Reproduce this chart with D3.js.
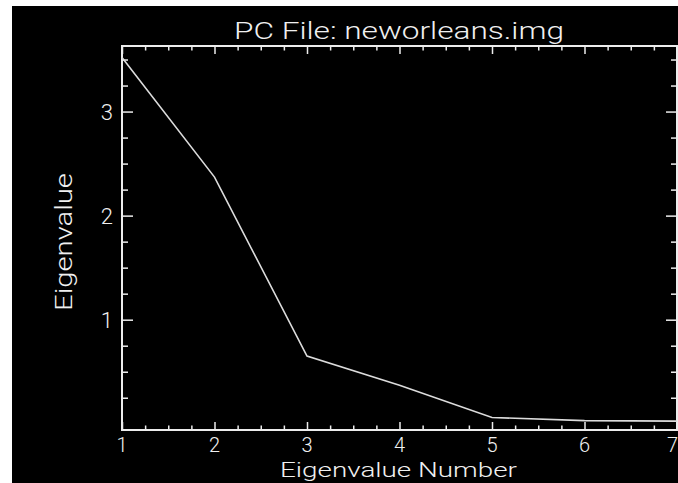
<!DOCTYPE html>
<html>
<head>
<meta charset="utf-8">
<script src="https://cdn.jsdelivr.net/npm/d3@7"></script>
<style>
  html, body { margin: 0; padding: 0; background: #fff; }
  svg { display: block; }
  text { font-family: Roboto, "DejaVu Sans", sans-serif; font-weight: 300; fill: #f0f0f0; }
</style>
</head>
<body>
<div id="chart"></div>
<script>
// Eigenvalue scree data
const eigenNumbers = [1, 2, 3, 4, 5, 6, 7];
const eigenValues = [3.52, 2.37, 0.65, 0.37, 0.06, 0.03, 0.025];

const xMajorTicks = [1, 2, 3, 4, 5, 6, 7];
const xMinorTicks = d3.range(1, 7.001, 0.25);
const yMajorTicks = [1, 2, 3];
const yMinorTicks = d3.range(0.25, 3.6, 0.25);

const titleText = 'PC File: neworleans.img';
const xTitle = 'Eigenvalue Number';
const yTitle = 'Eigenvalue';

const width = 678, height = 483;
const plot = { left: 122, right: 677, top: 46, bottom: 430 };
const fg = '#ececec';

const svg = d3.select('#chart').append('svg')
  .attr('width', width)
  .attr('height', height);

// black canvas inside the white border
svg.append('rect')
  .attr('x', 12).attr('y', 6)
  .attr('width', width - 12).attr('height', height - 6)
  .attr('fill', '#000');

const x = d3.scaleLinear().domain([1, 7]).range([plot.left, plot.right]);
const y = d3.scaleLinear().domain([-0.06, 3.63]).range([plot.bottom, plot.top]);

// ticks drawn inward on all four sides, IDL style
function tickAxis(axisFn, scale, values, size, tr) {
  const g = svg.append('g')
    .attr('transform', tr)
    .call(axisFn(scale).tickValues(values).tickSize(-size).tickSizeOuter(0).tickFormat(''));
  g.select('.domain').remove();
  g.selectAll('line').attr('stroke', fg).attr('stroke-width', 1.5);
  return g;
}

const minorX = xMinorTicks.filter(v => !xMajorTicks.includes(v));
const minorY = yMinorTicks.filter(v => !yMajorTicks.includes(v));

tickAxis(d3.axisBottom, x, xMajorTicks, 8, `translate(0,${plot.bottom})`);
tickAxis(d3.axisBottom, x, minorX, 4.5, `translate(0,${plot.bottom})`);
tickAxis(d3.axisTop, x, xMajorTicks, 8, `translate(0,${plot.top})`);
tickAxis(d3.axisTop, x, minorX, 4.5, `translate(0,${plot.top})`);
tickAxis(d3.axisLeft, y, yMajorTicks, 11, `translate(${plot.left},0)`);
tickAxis(d3.axisLeft, y, minorY, 6, `translate(${plot.left},0)`);
tickAxis(d3.axisRight, y, yMajorTicks, 11, `translate(${plot.right},0)`);
tickAxis(d3.axisRight, y, minorY, 6, `translate(${plot.right},0)`);

// frame
svg.append('rect')
  .attr('x', plot.left).attr('y', plot.top)
  .attr('width', plot.right - plot.left)
  .attr('height', plot.bottom - plot.top)
  .attr('fill', 'none')
  .attr('stroke', fg)
  .attr('stroke-width', 2);

// data line
const line = d3.line()
  .x((d, i) => x(eigenNumbers[i]))
  .y(d => y(d));

svg.append('path')
  .datum(eigenValues)
  .attr('d', line)
  .attr('fill', 'none')
  .attr('stroke', '#dcdcdc')
  .attr('stroke-width', 1.6);

// tick labels
svg.selectAll('text.xlab')
  .data(xMajorTicks)
  .enter().append('text')
  .attr('class', 'xlab')
  .attr('x', d => d === 7 ? x(d) + 1 : x(d))
  .attr('y', plot.bottom + 22)
  .attr('text-anchor', d => d === 7 ? 'end' : 'middle')
  .style('font-size', '20px')
  .text(d => d);

svg.selectAll('text.ylab')
  .data(yMajorTicks)
  .enter().append('text')
  .attr('class', 'ylab')
  .attr('x', plot.left - 9)
  .attr('y', d => y(d) + 8)
  .attr('text-anchor', 'end')
  .style('font-size', '22px')
  .text(d => d);

// titles
svg.append('text')
  .attr('x', 234).attr('y', 39)
  .attr('textLength', 330)
  .attr('lengthAdjust', 'spacingAndGlyphs')
  .style('font-size', '24px')
  .text(titleText);

svg.append('text')
  .attr('x', 280).attr('y', 477)
  .attr('textLength', 237)
  .attr('lengthAdjust', 'spacingAndGlyphs')
  .style('font-size', '21px')
  .text(xTitle);

svg.append('text')
  .attr('transform', 'translate(72,311) rotate(-90)')
  .attr('textLength', 138)
  .attr('lengthAdjust', 'spacingAndGlyphs')
  .style('font-size', '23px')
  .text(yTitle);
</script>
</body>
</html>
